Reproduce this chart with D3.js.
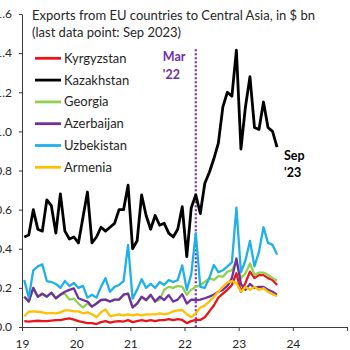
<!DOCTYPE html>
<html><head><meta charset="utf-8">
<script src="https://cdn.jsdelivr.net/npm/d3@7"></script>
<style>html,body{margin:0;padding:0;background:#fff;overflow:hidden}svg{display:block}</style>
</head><body>
<svg id="chart" width="350" height="350"></svg>
<script>
// Monthly data, Jan 2019 .. Sep 2023 (57 months), $ bn
const startYear = 2019;
const countries = ["Kyrgyzstan","Kazakhstan","Georgia","Azerbaijan","Uzbekistan","Armenia"];
const colors = ["#e8161b","#000000","#92d050","#7030a0","#1fb1e6","#ffc000"];

const kyrgyzstan = [0.03,0.028,0.03,0.032,0.03,0.03,0.033,0.035,0.035,0.04,0.044,0.038,
  0.03,0.025,0.02,0.02,0.015,0.025,0.03,0.022,0.028,0.03,0.028,0.035,
  0.025,0.03,0.035,0.03,0.035,0.03,0.035,0.035,0.04,0.035,0.04,0.036,
  0.02,0.03,0.036,0.036,0.05,0.08,0.11,0.15,0.17,0.19,0.215,0.275,
  0.18,0.225,0.283,0.25,0.265,0.265,0.25,0.24,0.215];
const kazakhstan = [0.46,0.47,0.60,0.50,0.49,0.65,0.62,0.48,0.68,0.49,0.45,0.46,
  0.43,0.56,0.69,0.43,0.46,0.51,0.49,0.51,0.53,0.60,0.60,0.725,
  0.40,0.44,0.675,0.57,0.50,0.57,0.52,0.53,0.48,0.46,0.50,0.615,
  0.36,0.61,0.675,0.58,0.735,0.79,0.86,0.94,1.125,1.20,1.18,1.415,
  0.91,1.125,1.28,1.02,1.01,1.15,1.02,1.00,0.92];
const georgia = [0.155,0.13,0.20,0.155,0.17,0.155,0.175,0.147,0.165,0.17,0.14,0.145,
  0.12,0.10,0.12,0.104,0.12,0.138,0.14,0.13,0.14,0.14,0.165,0.17,
  0.10,0.12,0.15,0.135,0.16,0.13,0.14,0.19,0.205,0.20,0.21,0.205,
  0.165,0.19,0.205,0.215,0.23,0.25,0.24,0.26,0.257,0.283,0.29,0.334,
  0.25,0.274,0.325,0.266,0.278,0.278,0.266,0.25,0.237];
const azerbaijan = [0.155,0.13,0.20,0.155,0.17,0.155,0.175,0.147,0.165,0.18,0.19,0.197,
  0.147,0.138,0.13,0.104,0.12,0.138,0.14,0.13,0.14,0.14,0.165,0.17,
  0.10,0.12,0.155,0.138,0.165,0.13,0.155,0.138,0.163,0.13,0.14,0.168,
  0.12,0.14,0.138,0.14,0.147,0.155,0.165,0.18,0.19,0.21,0.25,0.35,
  0.22,0.19,0.22,0.20,0.205,0.205,0.19,0.18,0.165];
const uzbekistan = [0.24,0.15,0.29,0.31,0.32,0.235,0.23,0.22,0.20,0.235,0.21,0.225,
  0.20,0.21,0.15,0.165,0.15,0.205,0.25,0.18,0.205,0.215,0.235,0.42,
  0.145,0.19,0.245,0.20,0.22,0.20,0.23,0.215,0.24,0.23,0.24,0.315,
  0.19,0.27,0.48,0.205,0.20,0.25,0.317,0.28,0.29,0.31,0.33,0.61,
  0.28,0.34,0.44,0.31,0.385,0.51,0.43,0.42,0.37];
const armenia = [0.055,0.078,0.08,0.078,0.075,0.07,0.072,0.07,0.075,0.085,0.085,0.08,
  0.08,0.07,0.075,0.065,0.05,0.075,0.09,0.055,0.06,0.065,0.06,0.065,
  0.06,0.065,0.06,0.065,0.065,0.065,0.07,0.065,0.07,0.08,0.085,0.087,
  0.065,0.05,0.07,0.10,0.11,0.13,0.155,0.18,0.205,0.228,0.235,0.225,
  0.18,0.205,0.19,0.205,0.19,0.198,0.18,0.168,0.157];
const seriesValues = [kyrgyzstan,kazakhstan,georgia,azerbaijan,uzbekistan,armenia];

const yTickValues = [0,0.2,0.4,0.6,0.8,1.0,1.2,1.4,1.6];
const xTickValues = [2019,2020,2021,2022,2023,2024,2025];
const xTickLabels = ["19","20","21","22","23","24",""];
const titleLines = ["Exports from EU countries to Central Asia, in $ bn","(last data point: Sep 2023)"];
const marchLabel = ["Mar","'22"];
const sepLabel = ["Sep","'23"];
const invasionDate = 2022 + 2.5/12;

const FONT = "Lato, 'Open Sans', sans-serif";
const svg = d3.select("#chart");
const x = d3.scaleLinear().domain([2019,2025]).range([22,347]);
const y = d3.scaleLinear().domain([0,1.6]).range([327,14]);
const t = i => startYear + (i+0.5)/12;

svg.append("rect").attr("width",350).attr("height",350).attr("fill","#fff");

// title
svg.append("g").selectAll("text").data(titleLines).join("text")
  .attr("x",32).attr("y",(d,i)=>19.5+i*17.5)
  .attr("font-family",FONT).attr("font-size",13).attr("fill","#262626")
  .text(d=>d);

// axes
const yAxis = svg.append("g").attr("transform","translate(22,0)")
  .call(d3.axisLeft(y).tickValues(yTickValues).tickFormat(d3.format(".1f")).tickSize(3).tickSizeOuter(0).tickPadding(7));
const xAxis = svg.append("g").attr("transform","translate(0,327)")
  .call(d3.axisBottom(x).tickValues(xTickValues).tickFormat((d,i)=>xTickLabels[i]).tickSize(4).tickSizeOuter(0).tickPadding(8));
[yAxis,xAxis].forEach(a=>{
  a.selectAll("path,line").attr("stroke","#3a3a3a").attr("stroke-width",1);
  a.selectAll("text").attr("font-family",FONT).attr("font-size",12).attr("fill","#262626");
});

// invasion marker
svg.append("line")
  .attr("x1",x(invasionDate)).attr("x2",x(invasionDate))
  .attr("y1",y(1.42)).attr("y2",y(0))
  .attr("stroke","#7030a0").attr("stroke-width",2.2).attr("stroke-dasharray","2,2");
svg.append("g").selectAll("text").data(marchLabel).join("text")
  .attr("x",x(invasionDate)-33).attr("y",(d,i)=>y(1.36)+i*18)
  .attr("font-family",FONT).attr("font-size",12.5).attr("font-weight","bold").attr("fill","#7030a0")
  .text(d=>d);

// lines
const line = d3.line().x((d,i)=>x(t(i))).y(d=>y(d)).curve(d3.curveLinear);
svg.append("g").selectAll("path").data(seriesValues).join("path")
  .attr("d",line).attr("fill","none")
  .attr("stroke",(d,i)=>colors[i])
  .attr("stroke-width",(d,i)=>i===1?2.8:2.3)
  .attr("stroke-linejoin","round");

// Sep '23 label
svg.append("g").selectAll("text").data(sepLabel).join("text")
  .attr("x",x(t(kazakhstan.length-1))+7).attr("y",(d,i)=>y(0.853)+i*17)
  .attr("font-family",FONT).attr("font-size",12.5).attr("font-weight","bold").attr("fill","#000")
  .text(d=>d);

// legend
const lg = svg.append("g").selectAll("g").data(countries).join("g")
  .attr("transform",(d,i)=>`translate(35,${58.3+i*21.8})`);
lg.append("line").attr("x1",0).attr("x2",26).attr("stroke",(d,i)=>colors[i]).attr("stroke-width",2.8);
lg.append("text").attr("x",29).attr("y",0).attr("dy","0.35em")
  .attr("font-family",FONT).attr("font-size",13).attr("fill","#262626").text(d=>d);
</script>
</body></html>
